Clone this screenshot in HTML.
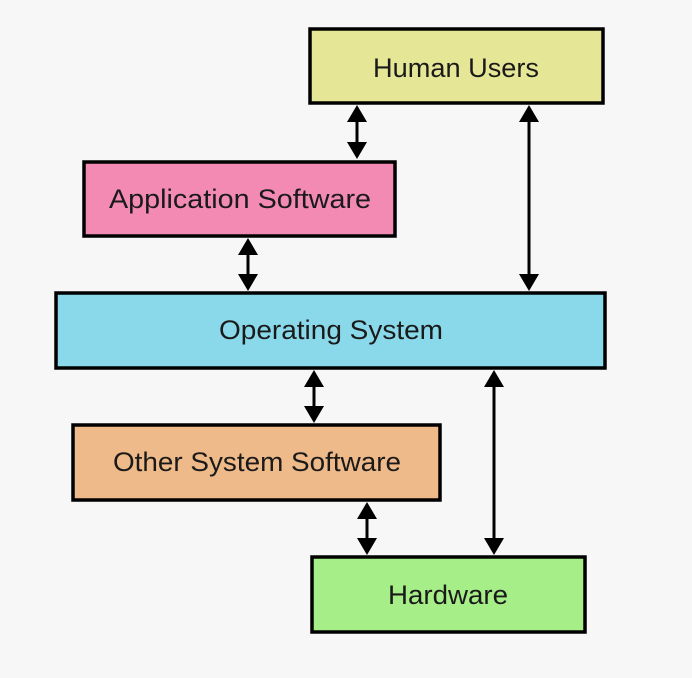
<!DOCTYPE html>
<html><head><style>
html,body{margin:0;padding:0;background:#f7f7f7;}
svg{display:block}
text{font-family:"Liberation Sans",sans-serif;font-size:27px;fill:#1a1a1a;text-anchor:middle;dominant-baseline:central}
</style></head><body>
<svg width="692" height="678" viewBox="0 0 692 678">
<rect width="692" height="678" fill="#f7f7f7"/>
<g stroke="#000" stroke-width="3.5">
<rect x="310" y="29" width="293" height="74" fill="#e5e796"/>
<rect x="84" y="162" width="311" height="74" fill="#f28ab4"/>
<rect x="56" y="293" width="549" height="75" fill="#89d9ea"/>
<rect x="73" y="425" width="367" height="75" fill="#efba89"/>
<rect x="312" y="557" width="273" height="75" fill="#a6ee87"/>
</g>
<text x="456" y="68" textLength="166" lengthAdjust="spacingAndGlyphs">Human Users</text>
<text x="240" y="199" textLength="262" lengthAdjust="spacingAndGlyphs">Application Software</text>
<text x="331" y="330" textLength="224" lengthAdjust="spacingAndGlyphs">Operating System</text>
<text x="257" y="462" textLength="288" lengthAdjust="spacingAndGlyphs">Other System Software</text>
<text x="448" y="595" textLength="120" lengthAdjust="spacingAndGlyphs">Hardware</text>
<g stroke="#000" stroke-width="3" fill="none">
<line x1="357" y1="115" x2="357" y2="148"/>
<line x1="529" y1="115" x2="529" y2="280"/>
<line x1="248" y1="248" x2="248" y2="280"/>
<line x1="314" y1="380" x2="314" y2="411"/>
<line x1="494" y1="380" x2="494" y2="543"/>
<line x1="367" y1="512" x2="367" y2="543"/>
</g>
<g fill="#000">
<polygon points="357,105 347,122 367,122"/><polygon points="357,159 347,142 367,142"/>
<polygon points="529,105 519,122 539,122"/><polygon points="529,291 519,274 539,274"/>
<polygon points="248,238 238,255 258,255"/><polygon points="248,291 238,274 258,274"/>
<polygon points="314,370 304,387 324,387"/><polygon points="314,423 304,406 324,406"/>
<polygon points="494,370 484,387 504,387"/><polygon points="494,555 484,538 504,538"/>
<polygon points="367,502 357,519 377,519"/><polygon points="367,555 357,538 377,538"/>
</g>
</svg>
</body></html>
